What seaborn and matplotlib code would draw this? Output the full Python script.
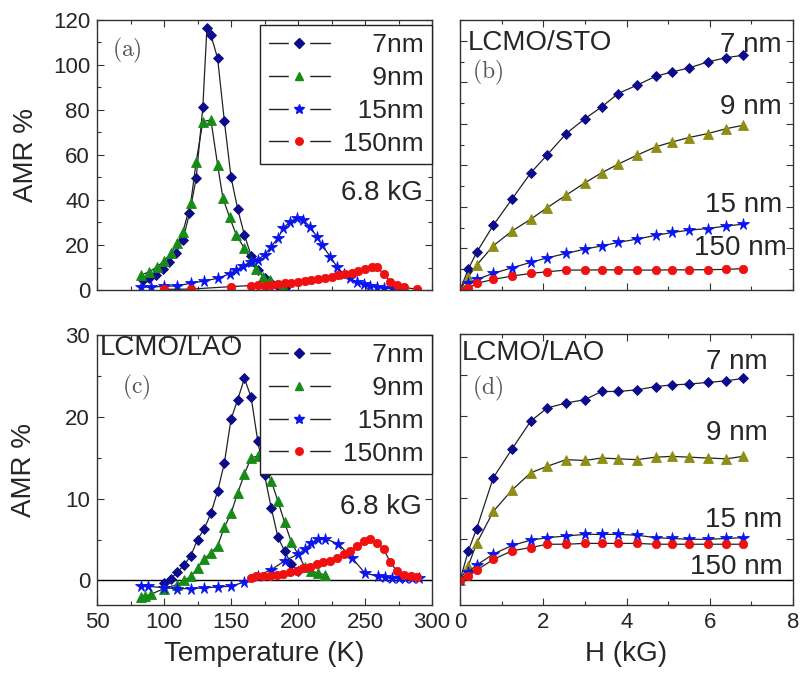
import numpy as np
import pandas as pd
import matplotlib
matplotlib.use("Agg")
import matplotlib.pyplot as plt
from matplotlib.lines import Line2D
from matplotlib.legend_handler import HandlerTuple
from matplotlib.ticker import MultipleLocator
import seaborn as sns

# ---- (a) LCMO/STO, AMR vs temperature at 6.8 kG ----
a_T7 = [84, 89, 94, 99, 104, 109, 114, 119, 124, 129, 132, 135, 140, 145, 150, 155, 160, 165, 170, 175, 180, 185, 190]
a_v7 = [4.5, 5.5, 6.8, 9.5, 12.5, 16.5, 22, 34, 49.6, 81.5, 116.3, 113.3, 103, 75.3, 50.2, 36, 24.5, 15.3, 8.7, 5.5, 3.2, 1.9, 0.7]
a_T9 = [83, 89, 95, 100, 105, 110, 114, 120, 124, 129, 135, 140, 144, 149, 154, 160, 165, 169, 174, 179, 189]
a_v9 = [6.7, 8.1, 10.4, 12.9, 16.3, 20.7, 25.6, 38.8, 57, 74.8, 75.6, 55.6, 40.7, 32.3, 24.4, 18.5, 13, 9.2, 6, 4.4, 1.8]
a_T15 = [83, 90, 100, 110, 120, 130, 140, 149, 154, 159, 165, 170, 175, 180, 185, 189, 194, 199, 204, 209, 214,
         218, 224, 229, 234, 239, 244, 249, 254, 259, 264, 270, 275]
a_v15 = [1.3, 1.3, 1.6, 1.9, 3.0, 4.0, 5.2, 7.2, 8.9, 10.8, 12.6, 13.5, 15.6, 19.3, 23, 27.4, 30.4, 31.9, 31.1, 28.1, 23.7,
         20, 14.8, 10.4, 7.1, 5.2, 3.4, 2.5, 1.9, 1.5, 1.0, 0.7, 0.5]
a_T150 = [100, 120, 150, 165, 170, 175, 180, 185, 190, 195, 200, 205, 210, 215, 220, 225, 230, 235, 240, 245, 250,
          255, 259, 264, 269, 274, 279, 289]
a_v150 = [0.3, 0.4, 1.5, 2.0, 2.2, 1.9, 2.2, 2.6, 3.0, 3.3, 3.7, 4.0, 4.4, 5.0, 5.5, 6.0, 6.5, 7.1, 7.7, 8.4, 9.4,
          10.2, 10.4, 6.9, 3.7, 2.2, 1.2, 0.3]

# ---- (b) LCMO/STO, AMR vs field ----
H = [0, 0.2, 0.4, 0.8, 1.25, 1.7, 2.1, 2.55, 3.0, 3.4, 3.8, 4.25, 4.7, 5.1, 5.5, 5.95, 6.4, 6.8]
b_v7 = [0, 10.1, 18.1, 31.2, 43.8, 56.4, 65.2, 75.3, 82.5, 88.1, 94.6, 98.6, 102.9, 105.0, 106.9, 109.8, 111.9, 113.0]
b_v9 = [0, 6.4, 12.0, 21.3, 28.4, 34.1, 39.7, 45.7, 51.6, 56.4, 60.6, 64.9, 68.9, 71.3, 73.4, 75.3, 77.7, 79.3]
b_v15 = [0, 3.2, 5.1, 8.0, 10.7, 13.3, 15.5, 17.6, 19.7, 21.2, 22.9, 24.5, 26.3, 27.7, 28.8, 29.6, 30.8, 31.7]
b_v150 = [0, 0.8, 3.2, 5.1, 6.7, 8.0, 8.8, 9.6, 9.6, 9.7, 9.7, 9.6, 9.6, 9.7, 9.7, 9.8, 9.9, 10.3]

# ---- (c) LCMO/LAO, AMR vs temperature at 6.8 kG ----
c_T7 = [100, 105, 110, 115, 120, 125, 130, 135, 140, 145, 150, 155, 160, 165, 170, 175, 180, 185, 190, 195, 200]
c_v7 = [-0.3, 0.2, 1.0, 1.9, 3.0, 5.0, 6.3, 8.2, 10.9, 14.3, 19.7, 22.1, 24.7, 22.4, 17, 12.9, 8.9, 5.3, 3.6, 2.0, 1.2]
c_T9 = [83, 86, 90, 100, 110, 115, 120, 125, 130, 135, 140, 145, 150, 155, 160, 165, 170, 175, 180, 185, 190, 195,
        205, 210, 215, 220]
c_v9 = [-2.0, -1.9, -1.7, -1.0, -0.5, 0.0, 0.5, 1.5, 2.6, 3.4, 4.2, 6.5, 8.2, 10.7, 13.0, 15.0, 15.2, 13.9, 12.2, 9.7,
        7.1, 4.7, 1.7, 1.2, 0.85, 0.7]
c_T15 = [83, 88, 100, 110, 120, 130, 140, 150, 160, 170, 180, 190, 200, 205, 210, 215, 220, 230, 240, 250, 260, 265,
         270, 275, 280, 285, 290]
c_v15 = [-0.7, -0.7, -0.9, -1.0, -1.0, -0.9, -0.8, -0.7, -0.2, 0.6, 1.3, 2.4, 3.2, 3.8, 4.6, 5.1, 5.1, 4.5, 2.8, 0.9,
         0.5, 0.4, 0.3, 0.3, 0.3, 0.3, 0.3]
c_T150 = [165, 169, 174, 179, 184, 189, 194, 199, 204, 209, 214, 219, 224, 229, 234, 239, 244, 249, 254, 259, 264,
          269, 274, 279, 284, 289]
c_v150 = [0.3, 0.5, 0.5, 0.6, 0.65, 0.8, 1.0, 1.2, 1.5, 1.7, 2.0, 2.2, 2.4, 2.8, 3.2, 3.6, 4.2, 4.8, 5.1, 4.6, 3.8,
          2.2, 1.1, 0.7, 0.5, 0.4]

# ---- (d) LCMO/LAO, AMR vs field ----
d_v7 = [0, 3.6, 6.3, 12.5, 16.0, 19.4, 21.0, 21.6, 22.0, 23.0, 23.0, 23.2, 23.6, 23.8, 23.9, 24.1, 24.3, 24.6]
d_v9 = [0, 1.8, 4.5, 8.4, 11.0, 13.1, 13.9, 14.7, 14.6, 14.9, 14.8, 14.7, 15.0, 15.1, 15.0, 14.9, 14.8, 15.1]
d_v15 = [0, 1.05, 1.86, 3.2, 4.25, 4.9, 5.2, 5.4, 5.6, 5.6, 5.6, 5.5, 5.2, 5.1, 5.0, 5.0, 5.1, 5.2]
d_v150 = [0, 0.5, 1.25, 2.55, 3.6, 4.0, 4.4, 4.4, 4.5, 4.5, 4.5, 4.5, 4.4, 4.4, 4.4, 4.4, 4.4, 4.4]

legend_labels = ["\u2007\u20077nm", "\u2007\u20079nm", "\u200715nm", "150nm"]
field_labels = ["7 nm", "9 nm", "15 nm", "150 nm"]

NAVY = "#0b0b8c"
GREEN = "#168c16"
OLIVE = "#8e8e14"
BLUE = "#0a14f0"
RED = "#f01010"
markers = ["D", "^", "*", "o"]
msizes = [5.5, 6.5, 8.5, 6]

sns.set_theme(style="ticks")
plt.rcParams["font.family"] = ["Liberation Sans", "DejaVu Sans"]
plt.rcParams["mathtext.fontset"] = "cm"

fig = plt.figure(figsize=(8.0, 6.74), dpi=100)
W, Hh = 800.0, 674.0


def axes_at(x0, x1, y0, y1):
    return fig.add_axes([x0 / W, 1 - y1 / Hh, (x1 - x0) / W, (y1 - y0) / Hh])


ax_a = axes_at(97, 432, 20, 290)
ax_b = axes_at(460, 793, 20, 290)
ax_c = axes_at(97, 432, 335, 605)
ax_d = axes_at(460, 793, 334, 605)


def draw(ax, x, y, marker, color, ms):
    df = pd.DataFrame({"x": x, "y": y})
    sns.lineplot(data=df, x="x", y="y", ax=ax, color="#222222", lw=0.9, sort=False,
                 marker=marker, markersize=ms, markerfacecolor=color, markeredgecolor=color,
                 markeredgewidth=0.6, estimator=None)


temp_sets_a = [(a_T7, a_v7), (a_T9, a_v9), (a_T15, a_v15), (a_T150, a_v150)]
temp_sets_c = [(c_T7, c_v7), (c_T9, c_v9), (c_T15, c_v15), (c_T150, c_v150)]
colors_T = [NAVY, GREEN, BLUE, RED]
colors_H = [NAVY, OLIVE, BLUE, RED]

for (x, y), m, c, s in zip(temp_sets_a, markers, colors_T, msizes):
    draw(ax_a, x, y, m, c, s)
for (x, y), m, c, s in zip(temp_sets_c, markers, colors_T, msizes):
    draw(ax_c, x, y, m, c, s)
for y, m, c, s in zip([b_v7, b_v9, b_v15, b_v150], markers, colors_H, msizes):
    draw(ax_b, H, y, m, c, s)
for y, m, c, s in zip([d_v7, d_v9, d_v15, d_v150], markers, colors_H, msizes):
    draw(ax_d, H, y, m, c, s)

for ax in (ax_c, ax_d):
    ax.axhline(0, color="black", lw=1.0, zorder=1)

# limits and ticks
for ax in (ax_a, ax_c):
    ax.set_xlim(50, 300)
    ax.xaxis.set_major_locator(MultipleLocator(50))
    ax.xaxis.set_minor_locator(MultipleLocator(25))
for ax in (ax_b, ax_d):
    ax.set_xlim(0, 8)
    ax.xaxis.set_major_locator(MultipleLocator(2))
    ax.xaxis.set_minor_locator(MultipleLocator(1))

ax_a.set_ylim(0, 120)
ax_a.yaxis.set_major_locator(MultipleLocator(20))
ax_a.yaxis.set_minor_locator(MultipleLocator(10))
ax_b.set_ylim(0, 130)
ax_b.yaxis.set_major_locator(MultipleLocator(20))
ax_b.yaxis.set_minor_locator(MultipleLocator(10))
ax_c.set_ylim(-3, 30)
ax_c.yaxis.set_major_locator(MultipleLocator(10))
ax_c.yaxis.set_minor_locator(MultipleLocator(5))
ax_d.set_ylim(-3, 30)
ax_d.yaxis.set_major_locator(MultipleLocator(5))

for ax in (ax_a, ax_b, ax_c, ax_d):
    ax.tick_params(which="both", direction="in", top=True, right=True, labelsize=16,
                   color="#333333", width=0.8, pad=5)
    ax.tick_params(which="major", length=5)
    ax.tick_params(which="minor", length=3)
    for sp in ax.spines.values():
        sp.set_color("#333333")
        sp.set_linewidth(1.0)
    ax.set_xlabel("")
    ax.set_ylabel("")

ax_a.tick_params(labelbottom=False)
ax_b.tick_params(labelbottom=False, labelleft=False)
ax_d.tick_params(labelleft=False)

ax_a.set_ylabel("AMR %", fontsize=20, labelpad=10)
ax_c.set_ylabel("AMR %", fontsize=20, labelpad=20)
ax_c.set_xlabel("Temperature (K)", fontsize=20, labelpad=6)
ax_d.set_xlabel("H (kG)", fontsize=20, labelpad=6)

# legends for the temperature panels: line, a white square opening a gap, then the marker
LEG_FS = 19
HLEN = 2.3
handles = []
for m, c, s in zip(markers, colors_T, msizes):
    line = Line2D([0], [0], color="#222222", lw=1.0)
    gap = Line2D([0], [0], linestyle="none", marker="s", markersize=15,
                 markerfacecolor="white", markeredgecolor="white")
    mark = Line2D([0], [0], linestyle="none", marker=m, markersize=s * 0.9,
                  markerfacecolor=c, markeredgecolor=c)
    handles.append((line, gap, mark))

for ax, top in ((ax_a, (290 - 25) / 270), (ax_c, 1.0)):
    leg = ax.legend(handles, legend_labels, loc="upper right", bbox_to_anchor=(1.0, top),
                    borderaxespad=0, fancybox=False, edgecolor="#222222", framealpha=1,
                    fontsize=LEG_FS, handlelength=HLEN, handletextpad=0.5, labelspacing=0.33,
                    borderpad=0.32, numpoints=1,
                    handler_map={tuple: HandlerTuple(ndivide=1, pad=0)})
    leg.get_frame().set_linewidth(1.0)

TXT = 20
ax_a.text(0.045, 0.889, r"$\mathrm{(a)}$", transform=ax_a.transAxes, fontsize=17, color="#555555", va="center")
ax_a.text(0.973, 0.359, "6.8 kG", transform=ax_a.transAxes, fontsize=TXT, ha="right", va="center")
ax_c.text(0.009, 0.952, "LCMO/LAO", transform=ax_c.transAxes, fontsize=TXT, va="center")
ax_c.text(0.075, 0.804, r"$\mathrm{(c)}$", transform=ax_c.transAxes, fontsize=17, color="#555555", va="center")
ax_c.text(0.97, 0.363, "6.8 kG", transform=ax_c.transAxes, fontsize=TXT, ha="right", va="center")

ax_b.text(0.024, 0.915, "LCMO/STO", transform=ax_b.transAxes, fontsize=TXT, va="center")
ax_b.text(0.036, 0.807, r"$\mathrm{(b)}$", transform=ax_b.transAxes, fontsize=17, color="#555555", va="center")
for lab, (xf, yf) in zip(field_labels, [(0.967, 0.907), (0.967, 0.678), (0.967, 0.315), (0.982, 0.156)]):
    ax_b.text(xf, yf, lab, transform=ax_b.transAxes, fontsize=TXT, ha="right", va="center")

ax_d.text(0.006, 0.93, "LCMO/LAO", transform=ax_d.transAxes, fontsize=TXT, va="center")
ax_d.text(0.036, 0.80, r"$\mathrm{(d)}$", transform=ax_d.transAxes, fontsize=17, color="#555555", va="center")
for lab, (xf, yf) in zip(field_labels, [(0.925, 0.897), (0.925, 0.635), (0.967, 0.314), (0.97, 0.14)]):
    ax_d.text(xf, yf, lab, transform=ax_d.transAxes, fontsize=TXT, ha="right", va="center")

fig.savefig("out.png", dpi=100, facecolor="white")
